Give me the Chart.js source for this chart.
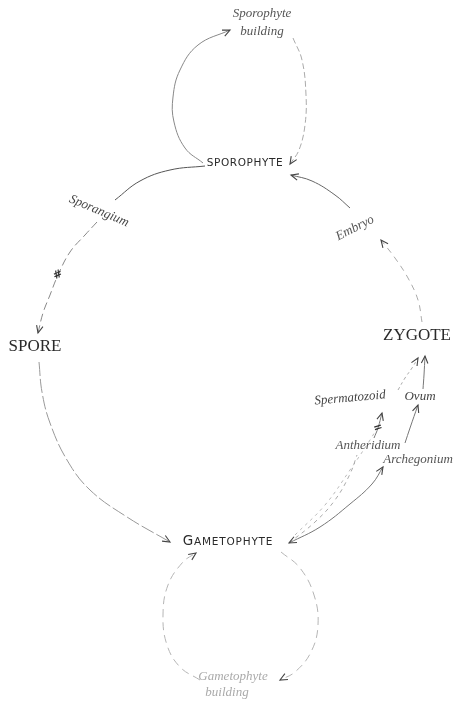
<!DOCTYPE html>
<html><head><meta charset="utf-8">
<script src="https://cdn.jsdelivr.net/npm/chart.js@4.4.1/dist/chart.umd.min.js"></script>
<style>html,body{margin:0;padding:0;background:#fff}#wrap{width:459px;height:706px;position:relative}</style>
</head><body><div id="wrap"><canvas id="c"></canvas></div>
<script>
// ---- Stage labels (capitals) ----
const stageNames = ['SPOROPHYTE', 'SPORE', 'GAMETOPHYTE', 'ZYGOTE'];
const stageX = [245, 35, 228, 417];
const stageY = [163, 347, 542, 336];

// ---- Italic organ labels ----
const organNames = ['Sporophyte', 'building', 'Sporangium', 'Embryo', 'Spermatozoid', 'Ovum', 'Antheridium', 'Archegonium', 'Gametophyte', 'building'];
const organX = [262, 262, 99, 355, 350, 420, 368, 418, 233, 227];
const organY = [14, 32, 211, 228, 398, 397, 446, 460, 677, 693];

// ---- Marks on the paths ----
const markSymbols = ['#', '='];
const markX = [58, 378];
const markY = [275, 428];

// ---- Paths ----
const pathSporoBuildLeft  = [[203,163],[185,148],[174,122],[173,97],[180,70],[198,45],[230,30]];
const pathSporoBuildRight = [[293,38],[302,60],[306,95],[305,125],[299,150],[290,164]];
const pathSporangium      = [[205,166],[170,170],[140,181],[115,200]];
const pathToSpore         = [[97,222],[85,235],[70,252],[58,275],[50,295],[43,313],[38,333]];
const pathSporeToGameto   = [[39,362],[42,392],[50,423],[67,460],[90,490],[127,517],[170,542]];
const pathGametoBuildR    = [[281,552],[300,568],[314,595],[318,625],[311,652],[295,672],[280,680]];
const pathGametoBuildL    = [[200,680],[180,667],[167,645],[163,615],[168,585],[183,562],[196,553]];
const pathArchToGameto    = [[383,467],[372,484],[350,504],[320,527],[289,543]];
const pathGametoAnther    = [[289,543],[315,522],[335,500],[350,474],[357,455]];
const pathGametoSperm     = [[295,535],[325,505],[350,470],[370,440],[380,423]];
const pathSpermToZygote   = [[398,390],[405,378],[412,368],[418,358]];
const pathOvumToZygote    = [[423,389],[424,375],[425,356]];
const pathArchToOvum      = [[405,443],[410,428],[418,405]];
const pathAntherToSperm   = [[374,438],[378,428],[382,413]];
const pathZygoteToEmbryo  = [[422,322],[418,300],[408,278],[395,258],[381,240]];
const pathEmbryoToSporo   = [[350,208],[335,195],[312,181],[291,175]];

const toXY = arr => arr.map(p => ({x: p[0], y: p[1]}));
function path(pts, opt) {
  return Object.assign({
    data: toXY(pts), showLine: true, pointRadius: 0, pointHoverRadius: 0,
    borderColor: '#9a9a9a', borderWidth: 1, tension: 0.4, fill: false
  }, opt || {});
}

const datasets = [
  path(pathSporoBuildLeft,  {arrowEnd: true, borderColor: '#888'}),
  path(pathSporoBuildRight, {arrowEnd: true, borderColor: '#aaa', borderDash: [6,3]}),
  path(pathSporangium,      {borderColor: '#555'}),
  path(pathToSpore,         {arrowEnd: true, borderColor: '#888', borderDash: [8,4]}),
  path(pathSporeToGameto,   {arrowEnd: true, borderColor: '#999', borderDash: [14,3]}),
  path(pathGametoBuildR,    {arrowEnd: true, borderColor: '#b5b5b5', borderDash: [8,5]}),
  path(pathGametoBuildL,    {arrowEnd: true, borderColor: '#b5b5b5', borderDash: [8,5]}),
  path(pathArchToGameto,    {arrowEnd: true, arrowStart: true, borderColor: '#777'}),
  path(pathGametoAnther,    {borderColor: '#aaa', borderDash: [4,4]}),
  path(pathGametoSperm,     {borderColor: '#bbb', borderDash: [3,4]}),
  path(pathSpermToZygote,   {arrowEnd: true, borderColor: '#aaa', borderDash: [3,3]}),
  path(pathOvumToZygote,    {arrowEnd: true, borderColor: '#777'}),
  path(pathArchToOvum,      {arrowEnd: true, borderColor: '#777'}),
  path(pathAntherToSperm,   {arrowEnd: true, borderColor: '#777'}),
  path(pathZygoteToEmbryo,  {arrowEnd: true, borderColor: '#aaa', borderDash: [6,5]}),
  path(pathEmbryoToSporo,   {arrowEnd: true, borderColor: '#666'})
];

function drawArrow(ctx, from, to, color) {
  const ang = Math.atan2(to.y - from.y, to.x - from.x);
  const L = 8, a = 0.42;
  ctx.save();
  ctx.strokeStyle = color; ctx.lineWidth = 1.1; ctx.setLineDash([]);
  ctx.beginPath();
  ctx.moveTo(to.x - L*Math.cos(ang - a), to.y - L*Math.sin(ang - a));
  ctx.lineTo(to.x, to.y);
  ctx.lineTo(to.x - L*Math.cos(ang + a), to.y - L*Math.sin(ang + a));
  ctx.stroke();
  ctx.restore();
}

const lifecyclePlugin = {
  id: 'lifecycle',
  afterDatasetsDraw(chart) {
    const ctx = chart.ctx, xs = chart.scales.x, ys = chart.scales.y;
    chart.data.datasets.forEach((ds, i) => {
      const pts = chart.getDatasetMeta(i).data;
      const n = pts.length;
      if (ds.arrowEnd) {
        const last = pts[n-1];
        const from = (last.cp1x !== undefined) ? {x: last.cp1x, y: last.cp1y} : pts[n-2];
        drawArrow(ctx, from, last, '#444');
      }
      if (ds.arrowStart) {
        const first = pts[0];
        const from = (first.cp2x !== undefined) ? {x: first.cp2x, y: first.cp2y} : pts[1];
        drawArrow(ctx, from, first, '#444');
      }
    });
    // stage labels
    ctx.save();
    ctx.textBaseline = 'middle';
    stageNames.forEach((t, i) => {
      const px = xs.getPixelForValue(stageX[i]), py = ys.getPixelForValue(stageY[i]);
      ctx.fillStyle = '#2a2a2a';
      if (t === 'SPORE' || t === 'ZYGOTE') {
        ctx.font = '17px "Liberation Serif", serif';
        ctx.letterSpacing = '0px';
        ctx.textAlign = 'center';
        ctx.fillText(t, px, py);
      } else if (t === 'GAMETOPHYTE') {
        ctx.letterSpacing = '0.8px';
        ctx.font = '13.5px "DejaVu Sans", sans-serif';
        const w1 = ctx.measureText(t[0]).width;
        ctx.font = '10.5px "DejaVu Sans", sans-serif';
        const w2 = ctx.measureText(t.slice(1)).width;
        const x0 = px - (w1 + w2) / 2;
        ctx.textAlign = 'left';
        ctx.font = '13.5px "DejaVu Sans", sans-serif';
        ctx.fillText(t[0], x0, py - 1);
        ctx.font = '10.5px "DejaVu Sans", sans-serif';
        ctx.fillText(t.slice(1), x0 + w1, py);
      } else {
        ctx.font = '10.5px "DejaVu Sans", sans-serif';
        ctx.letterSpacing = '0.6px';
        ctx.textAlign = 'center';
        ctx.fillText(t, px, py);
      }
    });
    ctx.letterSpacing = '0px';
    ctx.restore();
    // italic organ labels
    const rot = [0, 0, 23, -27, -5, 0, 0, 0, 0, 0];
    const col = ['#555','#555','#444','#555','#444','#444','#555','#555','#aaa','#aaa'];
    organNames.forEach((t, i) => {
      const px = xs.getPixelForValue(organX[i]), py = ys.getPixelForValue(organY[i]);
      ctx.save();
      ctx.translate(px, py);
      ctx.rotate(rot[i] * Math.PI / 180);
      ctx.font = 'italic 13px "Liberation Serif", serif';
      ctx.fillStyle = col[i];
      ctx.textAlign = 'center'; ctx.textBaseline = 'middle';
      ctx.fillText(t, 0, 0);
      ctx.restore();
    });
    // marks
    markSymbols.forEach((t, i) => {
      const px = xs.getPixelForValue(markX[i]), py = ys.getPixelForValue(markY[i]);
      ctx.save();
      ctx.translate(px, py);
      ctx.rotate(i === 0 ? -0.4 : -0.3);
      ctx.font = 'bold 11px "DejaVu Sans", sans-serif';
      ctx.fillStyle = '#333';
      ctx.textAlign = 'center'; ctx.textBaseline = 'middle';
      ctx.fillText(t, 0, 0);
      ctx.restore();
    });
  }
};

new Chart(document.getElementById('c'), {
  type: 'scatter',
  data: { datasets },
  options: {
    responsive: true, maintainAspectRatio: false, animation: false,
    layout: { padding: 0 },
    plugins: { legend: { display: false }, tooltip: { enabled: false } },
    events: [],
    scales: {
      x: { type: 'linear', min: 0, max: 459, display: false },
      y: { type: 'linear', min: 0, max: 706, reverse: true, display: false }
    }
  },
  plugins: [lifecyclePlugin]
});
</script>
</body></html>
